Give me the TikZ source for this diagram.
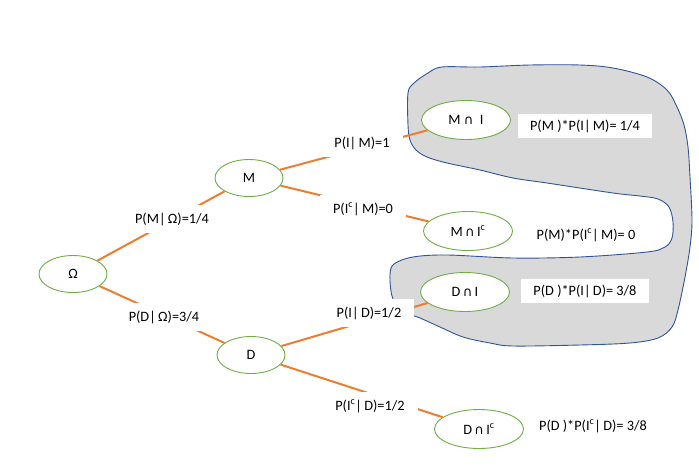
\documentclass[tikz,border=0pt]{standalone}
\usepackage{fontspec}
\setmainfont{Carlito}
\newfontfamily\symf{DejaVu Sans}
\usetikzlibrary{shapes.geometric}
\definecolor{orangeline}{HTML}{ED7D31}
\definecolor{greenedge}{HTML}{70AD47}
\definecolor{blobfill}{HTML}{D9D9D9}
\definecolor{blobedge}{HTML}{2F5597}
\newcommand{\capop}{{\symf\fontsize{13}{15}\selectfont ∩}}
\begin{document}
\begin{tikzpicture}[x=1pt,y=-1pt,
  font=\fontsize{14.3}{16}\selectfont,
  ev/.style={ellipse, draw=greenedge, line width=0.9pt, fill=white, inner sep=0pt, minimum width=68pt, minimum height=37pt},
  outc/.style={ev, minimum width=89pt, minimum height=39pt},
  br/.style={draw=orangeline, line width=2pt},
  plab/.style={fill=white, inner xsep=13pt, inner ysep=8pt},
  res/.style={fill=white, inner xsep=12pt, inner ysep=6pt},
  blob/.style={fill=blobfill, draw=blobedge, line width=0.9pt}]
\useasboundingbox (0,0) rectangle (699,469);
% grey region
\path[blob] plot[smooth cycle, tension=0.55] coordinates {
 (408,93) (414,83) (428,73) (442,67) (480,67) (530,65) (580,65) (613,68)
 (647,77) (667,90) (677,107) (684,125) (688,147) (690,177) (692,220)
 (690,247) (685,277) (678,310) (672,327) (658,338) (630,343) (580,345)
 (513,346) (490,343) (463,337) (440,327) (420,318) (400,310) (392,296)
 (390,275) (394,264) (413,257) (447,255) (513,258) (580,257) (647,252)
 (665,247) (672,238) (673,222) (669,207) (658,199) (640,196) (613,193)
 (547,183) (513,178) (480,170) (447,163) (427,157) (416,150) (410,140)
 (408,125)};
% event nodes
\node[ev] (O) at (73,274) {Ω};
\node[ev] (M) at (249,178) {M};
\node[ev] (D) at (251,355) {D};
\node[outc] (MI) at (466,120) {M~\capop~~I};
\node[outc] (MIc) at (468,231) {M\,\capop\,I\textsuperscript{c}};
\node[outc] (DI) at (465,292) {D\,\capop\,I};
\node[outc] (DIc) at (479,429) {D\,\capop\,I\textsuperscript{c}};
% branches
\draw[br] (O) -- (M);
\draw[br] (O) -- (D);
\draw[br] (M) -- (MI);
\draw[br] (M) -- (MIc);
\draw[br] (D) -- (DI);
\draw[br] (D) -- (DIc);
% branch labels
\node[plab] (lMO) at (172,219) {P(M|\,Ω)=1/4};
\node[plab] (lDO) at (164,317) {P(D|\,Ω)=3/4};
\node[plab] (lIM) at (362,143) {P(I|\,M)=1};
\node[plab] (lIcM) at (363,209) {P(I\textsuperscript{c}|\,M)=0};
\node[plab] (lID) at (369,313) {P(I|\,D)=1/2};
\node[plab] (lIcD) at (370,406) {P(I\textsuperscript{c}|\,D)=1/2};
% results
\node[res] (r1) at (585,126) {P(M )*P(I|\,M)= 1/4};
\node (r2) at (586,235) {P(M)*P(I\textsuperscript{c}|\,M)= 0};
\node[res] (r3) at (585,291) {P(D )*P(I|\,D)= 3/8};
\node (r4) at (593,426) {P(D )*P(I\textsuperscript{c}|\,D)= 3/8};
\end{tikzpicture}
\end{document}
